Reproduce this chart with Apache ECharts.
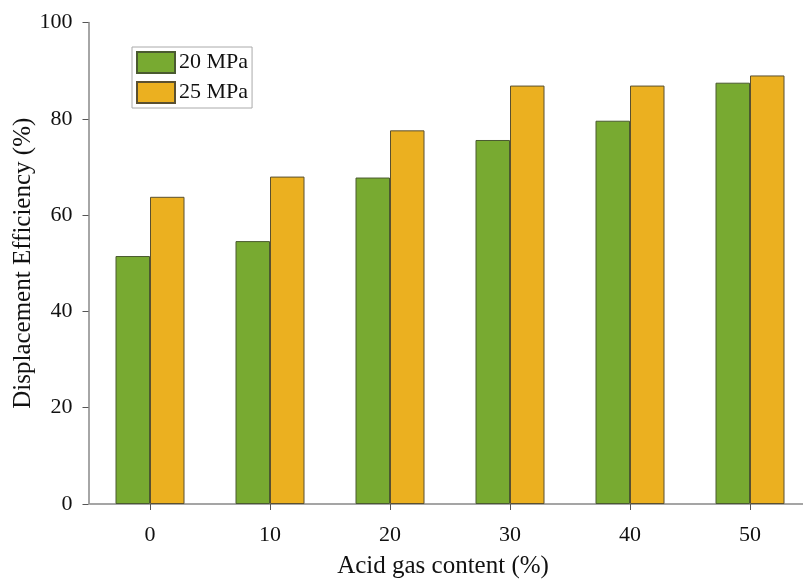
<!DOCTYPE html>
<html>
<head>
<meta charset="utf-8">
<script src="https://cdn.jsdelivr.net/npm/echarts@6/dist/echarts.min.js"></script>
<style>html,body{margin:0;padding:0;background:#fff}#c{width:803px;height:581px}</style>
</head>
<body>
<div id="c"></div>
<script>
var categories = ['0', '10', '20', '30', '40', '50'];
var seriesNames = ['20 MPa', '25 MPa'];
var values20 = [51.5, 54.6, 67.8, 75.6, 79.6, 87.5];
var values25 = [63.8, 68.0, 77.6, 86.9, 86.9, 89.0];
var yTicks = [0, 20, 40, 60, 80, 100];

var font = 'Liberation Serif';
var chart = echarts.init(document.getElementById('c'), null, {renderer: 'canvas'});
chart.setOption({
  animation: false,
  backgroundColor: '#fff',
  grid: {left: 90, width: 720, top: 22.5, bottom: 77, containLabel: false, outerBoundsMode: 'none'},
  legend: {
    data: seriesNames,
    orient: 'vertical',
    left: 132, top: 47,
    padding: [4, 4, 4, 4],
    itemWidth: 38, itemHeight: 21, itemGap: 7,
    borderColor: '#aaa', borderWidth: 1, borderRadius: 0,
    textStyle: {fontFamily: font, fontSize: 22, lineHeight: 21, color: '#111', padding: [0, 0, 0, -1]},
    icon: 'rect'
  },
  xAxis: {
    type: 'category',
    data: categories,
    name: 'Acid gas content (%)',
    nameLocation: 'middle',
    nameGap: 50,
    nameMoveOverlap: false,
    nameTextStyle: {fontFamily: font, fontSize: 25, color: '#111', padding: [0, 14, 0, 0]},
    axisLine: {lineStyle: {color: '#888', width: 1.5}},
    axisTick: {show: true, alignWithLabel: true, length: 6, lineStyle: {color: '#555'}},
    axisLabel: {fontFamily: font, fontSize: 22, color: '#111', margin: 20}
  },
  yAxis: {
    type: 'value',
    min: 0, max: 100, interval: 20,
    offset: 1.5,
    name: 'Displacement Efficiency (%)',
    nameLocation: 'middle',
    nameGap: 53,
    nameMoveOverlap: false,
    nameTextStyle: {fontFamily: font, fontSize: 25, color: '#111'},
    axisLine: {show: true, lineStyle: {color: '#888', width: 1.5}},
    axisTick: {show: true, length: 6, lineStyle: {color: '#555'}},
    axisLabel: {fontFamily: font, fontSize: 22, color: '#111', margin: 16,
      formatter: function (v) { return yTicks.indexOf(v) >= 0 ? String(v) : ''; }},
    splitLine: {show: false}
  },
  series: [
    {
      name: seriesNames[0], type: 'bar', data: values20,
      barWidth: 34.5, barGap: '0%',
      itemStyle: {color: '#78AA31', borderColor: '#4a5a30', borderWidth: 1}
    },
    {
      name: seriesNames[1], type: 'bar', data: values25,
      barWidth: 34.5, barGap: '0%',
      itemStyle: {color: '#EBB020', borderColor: '#5a5030', borderWidth: 1}
    }
  ]
});
</script>
</body>
</html>
